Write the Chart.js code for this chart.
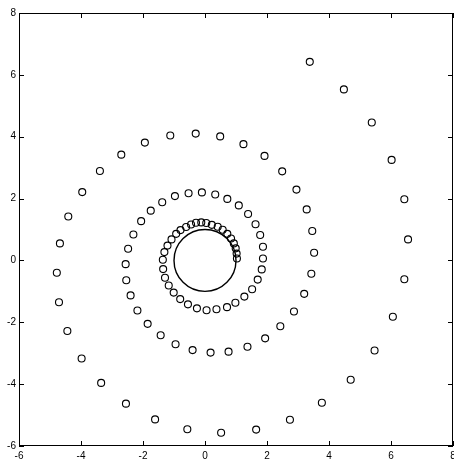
<!DOCTYPE html>
<html>
<head>
<meta charset="utf-8">
<script src="https://cdn.jsdelivr.net/npm/chart.js@4/dist/chart.umd.min.js"></script>
<style>
  html, body { margin: 0; padding: 0; background: #fff; overflow: hidden; }
  canvas { display: block; }
</style>
</head>
<body>
<canvas id="spiral" width="454" height="461"></canvas>
<script>
// --- DATA ---
const spiralX = [
    3.38, 4.48, 5.38, 6.02, 6.43, 6.55, 6.43, 6.06, 5.47, 4.70,
    3.77, 2.74, 1.65, 0.52, -0.57, -1.61, -2.55, -3.35, -3.98, -4.44,
    -4.71, -4.78, -4.68, -4.41, -3.96, -3.39, -2.70, -1.94, -1.12, -0.30,
    0.49, 1.24, 1.92, 2.49, 2.95, 3.28, 3.46, 3.52, 3.43, 3.20,
    2.87, 2.43, 1.94, 1.37, 0.76, 0.18, -0.40, -0.95, -1.43, -1.85,
    -2.18, -2.40, -2.54, -2.56, -2.48, -2.31, -2.06, -1.75, -1.38, -0.97,
    -0.53, -0.10, 0.33, 0.72, 1.09, 1.39, 1.63, 1.78, 1.87, 1.87,
    1.83, 1.70, 1.52, 1.27, 0.98, 0.71, 0.37, 0.05, -0.26, -0.55,
    -0.80, -1.01, -1.17, -1.29, -1.35, -1.36, -1.31, -1.21, -1.08, -0.93,
    -0.79, -0.61, -0.45, -0.29, -0.12, 0.04, 0.22, 0.41, 0.57, 0.72,
    0.84, 0.93, 0.99, 1.02, 1.03
];
const spiralY = [
    6.42, 5.53, 4.46, 3.25, 1.98, 0.68, -0.61, -1.82, -2.91, -3.86,
    -4.60, -5.15, -5.47, -5.57, -5.46, -5.14, -4.63, -3.96, -3.17, -2.28,
    -1.35, -0.40, 0.55, 1.42, 2.21, 2.89, 3.42, 3.81, 4.04, 4.10,
    4.01, 3.76, 3.38, 2.88, 2.29, 1.65, 0.95, 0.25, -0.43, -1.08,
    -1.65, -2.13, -2.52, -2.79, -2.95, -2.98, -2.90, -2.71, -2.42, -2.05,
    -1.62, -1.13, -0.64, -0.12, 0.38, 0.84, 1.27, 1.61, 1.88, 2.08,
    2.17, 2.20, 2.13, 1.99, 1.78, 1.50, 1.17, 0.82, 0.44, 0.06,
    -0.29, -0.62, -0.93, -1.17, -1.37, -1.51, -1.58, -1.61, -1.55, -1.42,
    -1.25, -1.04, -0.81, -0.56, -0.28, 0.02, 0.27, 0.48, 0.68, 0.86,
    0.98, 1.08, 1.16, 1.22, 1.23, 1.21, 1.15, 1.09, 0.99, 0.86,
    0.71, 0.55, 0.39, 0.22, 0.06
];
const axisMin = -6;
const axisMax = 8;
const tickStep = 2;
const tickValues = [-6, -4, -2, 0, 2, 4, 6, 8];
const circleCenter = [0, 0];
const circleRadius = 1;

const points = spiralX.map((x, i) => ({ x: x, y: spiralY[i] }));

// --- FRAME, INWARD TICKS AND UNIT CIRCLE ---
const framePlugin = {
    id: 'frame',
    afterDatasetsDraw(chart) {
        const { ctx, chartArea: a, scales: { x, y } } = chart;
        ctx.save();
        ctx.strokeStyle = '#000';

        // unit circle
        const cx = x.getPixelForValue(circleCenter[0]);
        const cy = y.getPixelForValue(circleCenter[1]);
        const rx = x.getPixelForValue(circleCenter[0] + circleRadius) - cx;
        const ry = cy - y.getPixelForValue(circleCenter[1] + circleRadius);
        ctx.lineWidth = 1.4;
        ctx.beginPath();
        ctx.ellipse(cx, cy, rx, ry, 0, 0, Math.PI * 2);
        ctx.stroke();

        // box
        ctx.lineWidth = 1;
        ctx.strokeRect(Math.round(a.left) + 0.5, Math.round(a.top) + 0.5,
            Math.round(a.right - a.left) - 1, Math.round(a.bottom - a.top) - 1);

        // ticks pointing in
        const len = 5;
        ctx.beginPath();
        tickValues.forEach(v => {
            const px = Math.round(x.getPixelForValue(v)) + 0.5;
            ctx.moveTo(px, a.bottom); ctx.lineTo(px, a.bottom - len);
            ctx.moveTo(px, a.top); ctx.lineTo(px, a.top + len);
            const py = Math.round(y.getPixelForValue(v)) + 0.5;
            ctx.moveTo(a.left, py); ctx.lineTo(a.left + len, py);
            ctx.moveTo(a.right, py); ctx.lineTo(a.right - len, py);
        });
        ctx.stroke();
        ctx.restore();
    }
};

const tickFont = { family: "'Liberation Sans', Arial, sans-serif", size: 10 };

new Chart(document.getElementById('spiral').getContext('2d'), {
    type: 'scatter',
    data: {
        datasets: [{
            data: points,
            pointStyle: 'circle',
            pointRadius: 3.5,
            pointBorderWidth: 1.1,
            pointBorderColor: '#000',
            pointBackgroundColor: 'rgba(0,0,0,0)',
            showLine: false
        }]
    },
    options: {
        responsive: false,
        animation: false,
        layout: { autoPadding: false, padding: { top: 13, right: 1, left: 0, bottom: 0 } },
        plugins: { legend: { display: false }, tooltip: { enabled: false } },
        scales: {
            x: {
                type: 'linear', min: axisMin, max: axisMax,
                grid: { display: false, drawTicks: false },
                border: { display: false },
                ticks: { stepSize: tickStep, color: '#000', font: tickFont, padding: 4, maxRotation: 0 },
                afterFit: s => { s.height = 15; s.paddingLeft = 0; s.paddingRight = 0; }
            },
            y: {
                type: 'linear', min: axisMin, max: axisMax,
                grid: { display: false, drawTicks: false },
                border: { display: false },
                ticks: { stepSize: tickStep, color: '#000', font: tickFont, padding: 3 },
                afterFit: s => { s.width = 19; s.paddingTop = 0; s.paddingBottom = 0; }
            }
        }
    },
    plugins: [framePlugin]
});
</script>
</body>
</html>
